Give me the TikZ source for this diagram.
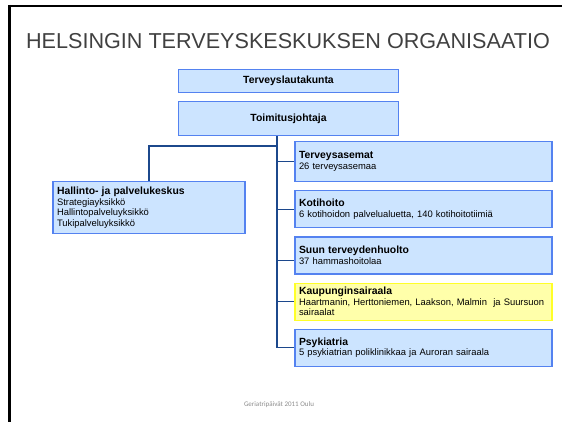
\documentclass[tikz,border=0pt]{standalone}
\usepackage{fontspec}
\setmainfont{Liberation Sans}
\newfontfamily\footfont{Carlito}
\usetikzlibrary{positioning}
\definecolor{boxfill}{RGB}{204,228,255}
\definecolor{boxline}{RGB}{84,130,240}
\definecolor{linkline}{RGB}{28,72,140}
\definecolor{hlfill}{RGB}{255,255,170}
\definecolor{hlline}{RGB}{255,255,40}
\definecolor{titlegray}{RGB}{64,64,64}
\definecolor{footgray}{RGB}{140,140,140}

\begin{document}
\begin{tikzpicture}[x=1pt,y=-1pt,node distance=8pt,
    top node/.style={draw=boxline,fill=boxfill,line width=1.2pt,minimum width=220pt,inner sep=0pt,font=\fontsize{10.4}{12}\selectfont\bfseries},
    dept node/.style={draw=boxline,fill=boxfill,line width=1.2pt,minimum height=37pt,text width=249pt,inner xsep=4pt,inner ysep=2pt,align=left,font=\fontsize{9.4}{10.5}\selectfont},
    link/.style={draw=linkline,line width=1.3pt}]

            \useasboundingbox (0,0) rectangle (562,422);
            \draw[line width=3pt] (9.5,5) -- (9.5,422);
            \draw[line width=2pt] (8,6) -- (562,6);

            \node[anchor=base, text=titlegray, font=\fontsize{21.6}{25}\selectfont] (title) at (288,49) {HELSINGIN TERVEYSKESKUKSEN ORGANISAATIO};

            \node[top node, minimum height=23pt] (lauta) at (288.5,81) {Terveyslautakunta};
            \node[top node, minimum height=34pt] (toim) at (288.5,118.5) {Toimitusjohtaja};

            \node[dept node, minimum height=52pt, text width=184pt] (hall) at (149,207.5) {{\fontsize{10.4}{11}\selectfont\bfseries Hallinto- ja palvelukeskus}\\ Strategiayksikkö\\ Hallintopalveluyksikkö\\ Tukipalveluyksikkö};

            \node[dept node, minimum height=40pt] (tas) at (423.5,161.5) {{\fontsize{10.4}{11}\selectfont\bfseries Terveysasemat}\\ 26 terveysasemaa};
            \node[dept node] (koti) [below=of tas] {{\fontsize{10.4}{11}\selectfont\bfseries Kotihoito}\\ 6 kotihoidon palvelualuetta, 140 kotihoitotiimiä};
            \node[dept node] (suun) [below=of koti] {{\fontsize{10.4}{11}\selectfont\bfseries Suun terveydenhuolto}\\ 37 hammashoitolaa};
            \node[dept node, draw=hlline, fill=hlfill] (kaup) [below=of suun] {{\fontsize{10.4}{11}\selectfont\bfseries Kaupunginsairaala}\\ Haartmanin, Herttoniemen, Laakson, Malmin~ ja Suursuon\\ sairaalat};
            \node[dept node] (psyk) [below=of kaup] {{\fontsize{10.4}{11}\selectfont\bfseries Psykiatria}\\ 5 psykiatrian poliklinikkaa ja Auroran sairaala};

            \coordinate (fork) at (277,146);

            \draw[link] (toim.south -| fork) |- (psyk.west);
            \draw[link] (fork) -| (hall.north);
            \draw[link] (fork) |- (tas.west);
            \draw[link] (fork) |- (koti.west);
            \draw[link] (fork) |- ([yshift=-5pt]suun.west);
            \draw[link] (fork) |- (kaup.west);

            \node[anchor=base, text=footgray, font=\footfont\fontsize{7}{8}\selectfont] (foot) at (279,406) {Geriatripäivät 2011 Oulu};

            ;
        \end{tikzpicture}
\end{document}
